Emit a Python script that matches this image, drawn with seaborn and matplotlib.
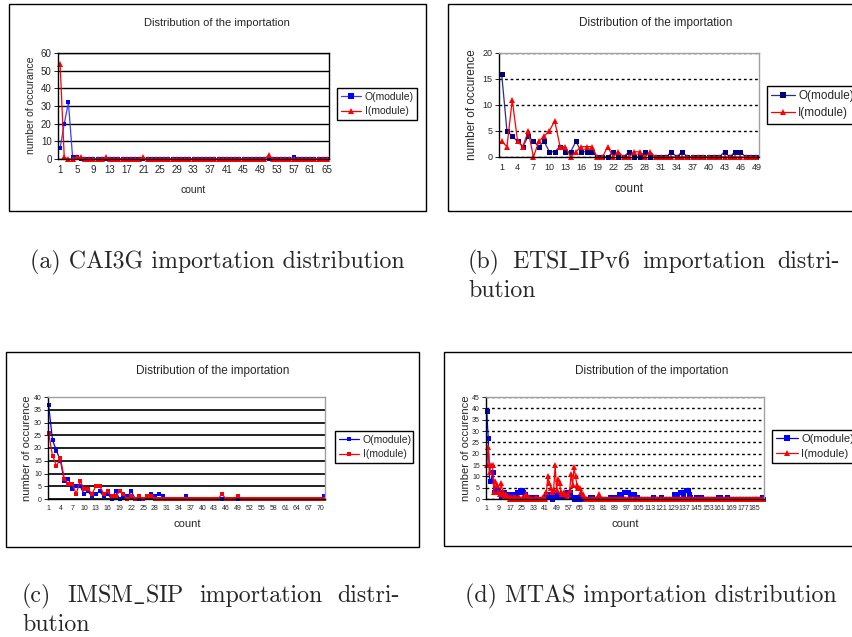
import seaborn as sns
import matplotlib.pyplot as plt
import pandas as pd
from matplotlib.lines import Line2D
from matplotlib.patches import Rectangle

# ---- values (counts not listed are 0) ----
# (a) CAI3G
cai3g_count = list(range(1, 66))
cai3g_out = {1: 6, 2: 20, 3: 32, 4: 1, 5: 1, 57: 1}
cai3g_in = {1: 54, 2: 1, 5: 1, 6: 1, 12: 1, 21: 1, 51: 2}

# (b) ETSI_IPv6
etsi_count = list(range(1, 50))
etsi_out = [16, 5, 4, 3, 2, 4, 3, 2, 3, 1,
            1, 2, 1, 1, 3, 1, 1, 1, 0, 0,
            0, 1, 0, 0, 1, 0, 0, 1, 0, 0,
            0, 0, 1, 0, 1, 0, 0, 0, 0, 0,
            0, 0, 1, 0, 1, 1, 0, 0, 0]
etsi_in = [3, 2, 11, 3, 2, 5, 0, 3, 4, 5,
           7, 2, 2, 0, 1, 2, 2, 2, 0, 0,
           2, 0, 1, 0, 0, 1, 1, 0, 1, 0,
           0, 0, 0, 0, 0, 0, 0, 0, 0, 0,
           0, 0, 0, 0, 0, 0, 0, 0, 0]

# (c) IMSM_SIP
imsm_count = list(range(1, 72))
imsm_out = {1: 37, 2: 23, 3: 19, 4: 15, 5: 7, 6: 8, 7: 4, 8: 5, 9: 5, 10: 2,
            11: 3, 12: 1, 13: 2, 14: 3, 15: 1, 16: 2, 18: 3, 20: 1, 21: 1, 22: 3,
            26: 1, 27: 2, 28: 1, 29: 2, 30: 1, 36: 1, 71: 1}
imsm_in = {1: 26, 2: 17, 3: 13, 4: 16, 5: 8, 6: 6, 7: 6, 8: 2, 9: 7, 10: 4,
           11: 4, 12: 2, 13: 5, 14: 5, 15: 2, 16: 3, 17: 1, 18: 1, 19: 3, 20: 2,
           22: 1, 24: 1, 26: 1, 27: 1, 45: 2, 49: 1}

# (d) MTAS
mtas_count = list(range(1, 192))
mtas_out = {1: 39, 2: 27, 3: 8, 4: 8, 5: 12, 6: 3, 7: 5, 8: 4, 9: 3, 10: 2,
            11: 1, 12: 3, 13: 3, 14: 2, 15: 2, 16: 2, 17: 2, 18: 2, 19: 2, 20: 1,
            21: 1, 22: 3, 23: 3, 24: 4, 25: 4, 26: 3, 27: 2, 28: 1, 29: 1, 30: 1,
            31: 1, 32: 1, 33: 1, 34: 1, 35: 1, 41: 1, 42: 2, 43: 2, 44: 1, 45: 1,
            47: 1, 48: 2, 49: 1, 50: 1, 51: 2, 52: 1, 53: 2, 54: 1, 55: 1, 56: 3,
            57: 3, 58: 3, 59: 1, 60: 1, 62: 1, 66: 1, 72: 1, 73: 1, 86: 1, 87: 1,
            89: 1, 90: 1, 92: 2, 93: 2, 95: 3, 96: 3, 97: 3, 98: 3, 100: 2, 101: 2,
            102: 2, 103: 1, 104: 1, 115: 1, 121: 1, 130: 2, 131: 2, 134: 3, 135: 3,
            136: 2, 138: 4, 139: 4, 140: 2, 141: 1, 145: 1, 146: 1, 147: 1, 148: 1,
            160: 1, 161: 1, 166: 1, 190: 1}
mtas_in = {1: 15, 2: 23, 3: 12, 4: 15, 5: 15, 6: 3, 7: 8, 8: 6, 9: 3, 10: 2,
           11: 7, 12: 3, 13: 1, 14: 2, 15: 1, 16: 1, 18: 1, 20: 1, 21: 1, 23: 1,
           26: 1, 28: 2, 30: 1, 35: 1, 40: 1, 42: 3, 43: 10, 44: 7, 45: 5, 46: 3,
           47: 4, 48: 15, 49: 4, 50: 9, 51: 7, 52: 3, 53: 2, 54: 3, 55: 2, 56: 1,
           57: 2, 58: 4, 59: 11, 60: 6, 61: 14, 62: 10, 63: 6, 64: 5, 65: 5, 66: 3,
           67: 2, 68: 1, 78: 2}

series_names = ["O(module)", "I(module)"]
chart_title = "Distribution of the importation"

sns.set_style("white")
plt.rcParams["font.family"] = ["Liberation Sans", "DejaVu Sans"]
plt.rcParams["mathtext.fontset"] = "cm"

W, H = 853, 637
fig = plt.figure(figsize=(W / 100, H / 100), dpi=100)


def as_list(vals, count):
    if isinstance(vals, dict):
        return [vals.get(c, 0) for c in count]
    return list(vals)


def fx(x):
    return x / W


def fy(y):
    return 1 - y / H


def draw(p):
    l, t, r, b = p["plot"]
    x0, y0, x1, y1 = p["box"]
    fig.add_artist(Rectangle((fx(x0), fy(y1)), (x1 - x0) / W, (y1 - y0) / H,
                             transform=fig.transFigure, fill=False, ec="black", lw=1))
    ax = fig.add_axes([fx(l), fy(b), (r - l) / W, (b - t) / H])
    count = p["count"]
    df = pd.DataFrame({"count": count,
                       series_names[0]: as_list(p["out"], count),
                       series_names[1]: as_list(p["in"], count)})
    sns.lineplot(data=df, x="count", y=series_names[0], ax=ax, color=p["o_line"],
                 linewidth=0.9, marker="s", markersize=p["ms"][0],
                 markerfacecolor=p["o_col"], markeredgecolor=p["o_col"],
                 markeredgewidth=0, clip_on=False, legend=False)
    sns.lineplot(data=df, x="count", y=series_names[1], ax=ax, color="#ff0000",
                 linewidth=0.9, marker=p["i_marker"], markersize=p["ms"][1],
                 markerfacecolor="#ff0000", markeredgecolor="#ff0000",
                 markeredgewidth=0, clip_on=False, legend=False)

    ax.set_xlim(*p["xlim"])
    ax.set_ylim(0, p["ymax"])
    ax.set_yticks(range(0, p["ymax"] + 1, p["ystep"]))
    major = count[::p["xstep"]]
    ax.set_xticks(major)
    ax.set_xticklabels([str(c) for c in major])
    if p["between"]:
        minor = [c - 0.5 for c in count[::p["mstep"]]] + [count[-1] + 0.5]
    else:
        minor = count[::p["mstep"]]
    ax.set_xticks(minor, minor=True)
    ax.tick_params(axis="x", which="major", length=0, labelsize=p["tick_fs"], pad=4)
    ax.tick_params(axis="x", which="minor", length=2.5, width=0.6, direction="out",
                   color="black")
    ax.tick_params(axis="y", length=3, width=0.6, direction="out", color="black",
                   labelsize=p["tick_fs"], pad=1.5, left=True)

    ax.yaxis.grid(True, color=p["grid_c"], linestyle=p["grid_ls"], linewidth=p["grid_lw"])
    ax.xaxis.grid(False)
    ax.set_axisbelow(True)
    for side in ["left", "bottom"]:
        ax.spines[side].set_color("black")
        ax.spines[side].set_linewidth(1.0)
    for side in ["top", "right"]:
        ax.spines[side].set_color(p["frame"])
        ax.spines[side].set_linewidth(1.0)

    ax.set_xlabel("count", fontsize=p["lab_fs"])
    ax.set_ylabel(p["ylab"], fontsize=p["lab_fs"])
    ax.xaxis.label.set_va("center")
    ax.yaxis.label.set_va("center")
    xlx, xly = p["xlab"]
    ax.xaxis.set_label_coords((xlx - l) / (r - l), (b - xly) / (b - t))
    ylx, yly = p["ylab_xy"]
    ax.yaxis.set_label_coords((ylx - l) / (r - l), (b - yly) / (b - t))

    tx, ty = p["title_xy"]
    fig.text(fx(tx), fy(ty), chart_title, ha="center", va="center", fontsize=p["title_fs"])

    handles = [Line2D([0], [0], color=p["o_line"], lw=0.9, marker="s", ms=p["ms"][0] + 0.5,
                      mfc=p["o_col"], mec=p["o_col"], mew=0),
               Line2D([0], [0], color="#ff0000", lw=0.9, marker=p["i_marker"],
                      ms=p["ms"][1] + 0.5, mfc="#ff0000", mec="#ff0000", mew=0)]
    gx0, gy0, gx1, gy1 = p["leg"]
    leg = fig.legend(handles, series_names, loc="upper left",
                     bbox_to_anchor=(fx(gx0), fy(gy0), (gx1 - gx0) / W, 0),
                     mode="expand", frameon=True, fancybox=False, framealpha=1,
                     edgecolor="black", fontsize=p["leg_fs"], handlelength=2.0,
                     handletextpad=0.3, borderpad=0.35, labelspacing=0.45,
                     borderaxespad=0)
    leg.get_frame().set_linewidth(1.0)


panels = [
    dict(count=cai3g_count, out=cai3g_out, **{"in": cai3g_in},
         ylab="number of occurance", box=(9, 4, 426, 211), plot=(58, 53, 329, 159),
         xlim=(0.5, 65.5), ymax=60, ystep=10, xstep=4, mstep=1, between=True,
         grid_ls="-", grid_lw=1.0, grid_c="black", frame="black", o_col="#0000ff",
         o_line="#3c3cff", i_marker="^", ms=(3.3, 3.8), tick_fs=7, lab_fs=7.5,
         title_fs=8, title_xy=(217, 23), xlab=(193, 190), ylab_xy=(31, 105),
         leg=(337, 88, 417, 123), leg_fs=7.5),
    dict(count=etsi_count, out=etsi_out, **{"in": etsi_in},
         ylab="number of occurence", box=(448, 4, 880, 211), plot=(499, 53, 759, 157),
         xlim=(0.5, 49.5), ymax=20, ystep=5, xstep=3, mstep=1, between=True,
         grid_ls=(0, (2, 2)), grid_lw=1.0, grid_c="black", frame="#a0a0a0",
         o_col="#000080", o_line="#2a2a96", i_marker="^", ms=(3.6, 4.0), tick_fs=6.5,
         lab_fs=8.5, title_fs=8.5, title_xy=(656, 23), xlab=(629, 189),
         ylab_xy=(472, 105), leg=(767, 86, 880, 123), leg_fs=8.5),
    dict(count=imsm_count, out=imsm_out, **{"in": imsm_in},
         ylab="number of occurence", box=(6, 352, 419, 547), plot=(48, 397, 325, 499),
         xlim=(0.85, 71.15), ymax=40, ystep=5, xstep=3, mstep=1, between=False,
         grid_ls="-", grid_lw=1.4, grid_c="#202020", frame="#a0a0a0", o_col="#0000ff",
         o_line="#0000ff", i_marker="s", ms=(2.4, 2.4), tick_fs=5, lab_fs=8,
         title_fs=8.5, title_xy=(213, 371), xlab=(187, 524), ylab_xy=(27, 448),
         leg=(335, 431, 413, 466), leg_fs=7.5),
    dict(count=mtas_count, out=mtas_out, **{"in": mtas_in},
         ylab="number of occurence", box=(444, 352, 880, 546), plot=(486, 397, 764, 499),
         xlim=(0.5, 191.5), ymax=45, ystep=5, xstep=8, mstep=8, between=True,
         grid_ls=(0, (2, 2)), grid_lw=1.0, grid_c="black", frame="#a0a0a0",
         o_col="#0000ff", o_line="#0000ff", i_marker="^", ms=(3.6, 4.2), tick_fs=5,
         lab_fs=8, title_fs=8.5, title_xy=(652, 371), xlab=(625, 524),
         ylab_xy=(466, 448), leg=(772, 430, 880, 465), leg_fs=8),
]

for p in panels:
    draw(p)

# ---- LaTeX-style sub-captions ----
cap_font = dict(family=["cmr10", "DejaVu Serif"], fontsize=17.2, va="baseline")


def caption(words, x0, y, x1=None):
    if x1 is None:
        fig.text(fx(x0), fy(y), " ".join(words), ha="left", **cap_font)
        return
    texts = [fig.text(0, fy(y), w, ha="left", **cap_font) for w in words]
    rend = fig.canvas.get_renderer()
    widths = [tx.get_window_extent(rend).width for tx in texts]
    gap = (x1 - x0 - sum(widths)) / (len(words) - 1)
    x = x0
    for tx, w in zip(texts, widths):
        tx.set_x(fx(x))
        x += w + gap


caption(["(a)", "CAI3G", "importation", "distribution"], 30, 268)
caption(["(b)", r"ETSI$\_$IPv6", "importation", "distri-"], 468, 268, 840)
caption(["bution"], 468, 297)
caption(["(c)", r"IMSM$\_$SIP", "importation", "distri-"], 22, 602, 400)
caption(["bution"], 22, 631)
caption(["(d)", "MTAS", "importation", "distribution"], 465, 602)

fig.savefig("out.png", dpi=100)
